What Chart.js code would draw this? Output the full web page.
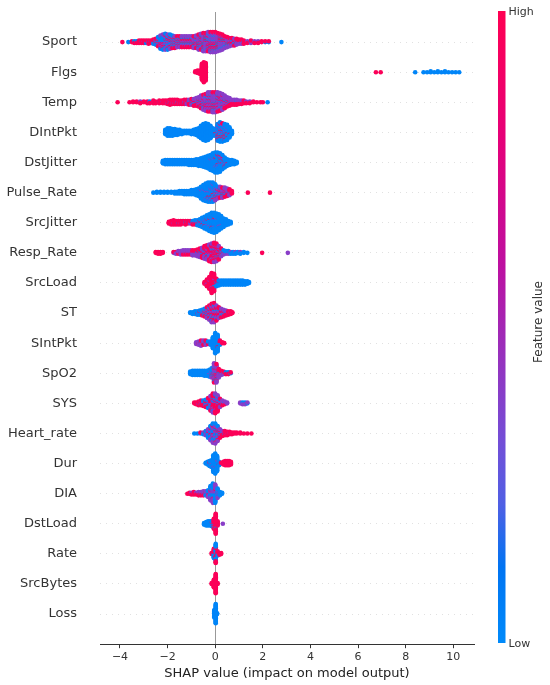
<!DOCTYPE html>
<html>
<head>
<meta charset="utf-8">
<script src="https://cdn.jsdelivr.net/npm/chart.js@4.4.1/dist/chart.umd.min.js"></script>
<style>
  html, body { margin: 0; padding: 0; background: #fff; }
  #wrap { width: 550px; height: 685px; position: relative; }
</style>
</head>
<body>
<div id="wrap"><canvas id="shapChart"></canvas></div>
<script>
// feature names, top row first (ordered by mean |SHAP|)
const features = ['Sport', 'Flgs', 'Temp', 'DIntPkt', 'DstJitter', 'Pulse_Rate', 'SrcJitter',
  'Resp_Rate', 'SrcLoad', 'ST', 'SIntPkt', 'SpO2', 'SYS', 'Heart_rate', 'Dur', 'DIA',
  'DstLoad', 'Rate', 'SrcBytes', 'Loss'];

const xTicks = [-4, -2, 0, 2, 4, 6, 8, 10];

// feature value used for the low / mid / high points
const colorLevels = [0.03, 0.4, 0.97];

// each entry: [shap value, n low, n mid, n high]
const sport = [[-3.9,0,0,1],[-3.65,1,0,0],[-3.5,0,0,2],[-3.4,1,0,2],[-3.3,1,0,2],[-3.2,0,1,3],
  [-3.1,1,0,3],[-3.0,0,1,3],[-2.9,2,0,2],[-2.8,1,1,3],[-2.7,1,0,3],[-2.6,2,1,3],[-2.5,3,2,3],
  [-2.4,5,3,4],[-2.3,8,5,4],[-2.2,9,6,4],[-2.1,9,7,4],[-2.0,8,7,4],[-1.9,7,6,5],[-1.8,6,5,5],
  [-1.7,5,5,5],[-1.6,4,5,5],[-1.5,4,5,5],[-1.4,3,6,5],[-1.3,3,6,5],[-1.2,3,6,5],[-1.1,3,6,5],
  [-1.0,3,6,5],[-0.9,3,7,5],[-0.8,3,8,5],[-0.7,4,9,6],[-0.6,4,10,6],[-0.5,5,11,7],[-0.4,5,12,6],
  [-0.3,5,12,7],[-0.2,5,12,8],[-0.1,5,12,8],[0.0,5,12,8],[0.1,5,11,7],[0.2,4,11,6],[0.3,4,10,5],
  [0.4,3,8,4],[0.5,3,6,4],[0.6,2,5,4],[0.7,2,4,4],[0.8,2,3,4],[0.9,1,3,4],[1.0,1,2,3],
  [1.1,1,2,3],[1.2,1,1,3],[1.35,0,1,2],[1.5,1,1,2],[1.65,0,1,2],[1.8,0,1,2],[1.95,0,0,2],
  [2.1,1,0,1],[2.25,1,0,1],[2.78,1,0,0]];
const flgs = [[-0.84,0,0,2],[-0.74,0,0,4],[-0.64,0,0,5],[-0.56,0,0,20],[-0.48,0,0,25],
  [-0.40,0,0,22],[6.75,0,0,1],[6.95,0,0,1],[8.4,1,0,0],[8.75,1,0,0],[8.9,1,0,0],[9.05,2,0,0],
  [9.2,1,0,0],[9.35,2,0,0],[9.5,1,0,0],[9.65,2,0,0],[9.8,1,0,0],[9.95,1,0,0],[10.1,1,0,0],
  [10.25,1,0,0]];
const temp = [[-4.1,0,0,1],[-3.6,0,0,1],[-3.45,0,0,2],[-3.3,0,0,2],[-3.15,0,1,2],[-3.0,0,0,2],
  [-2.85,0,0,3],[-2.75,1,0,2],[-2.6,0,1,3],[-2.5,0,0,3],[-2.35,1,0,3],[-2.2,0,1,3],[-2.1,0,0,4],
  [-2.0,0,1,4],[-1.9,1,1,5],[-1.8,0,1,5],[-1.7,0,1,5],[-1.6,1,1,4],[-1.5,0,1,4],[-1.4,0,1,4],
  [-1.3,1,1,4],[-1.2,0,2,4],[-1.1,1,2,4],[-1.0,2,2,4],[-0.9,2,3,4],[-0.8,1,5,4],[-0.7,1,7,4],
  [-0.6,2,9,5],[-0.5,2,12,5],[-0.4,2,14,5],[-0.3,3,15,6],[-0.2,3,15,6],[-0.1,3,16,6],
  [0.0,3,16,6],[0.1,3,15,6],[0.2,2,15,5],[0.3,2,14,4],[0.4,1,11,4],[0.5,1,7,4],[0.6,1,5,4],
  [0.7,0,3,4],[0.8,0,3,4],[0.9,1,2,4],[1.0,0,2,3],[1.1,0,2,3],[1.2,0,1,3],[1.3,0,1,2],
  [1.45,0,1,2],[1.6,0,0,2],[1.75,0,0,1],[1.9,0,0,1],[2.0,0,0,1],[2.2,1,0,0]];
const dIntPkt = [[-2.1,6,0,0],[-2.0,10,0,0],[-1.9,10,0,0],[-1.8,9,0,0],[-1.7,8,0,0],[-1.6,7,0,0],
  [-1.5,6,0,0],[-1.4,5,0,0],[-1.3,4,0,0],[-1.2,4,0,0],[-1.1,4,0,0],[-1.0,5,0,0],[-0.9,6,0,0],
  [-0.8,8,0,0],[-0.7,11,0,0],[-0.6,16,0,0],[-0.5,20,0,0],[-0.4,22,0,0],[-0.3,20,0,0],
  [-0.2,16,0,0],[-0.1,10,0,0],[0.0,8,0,1],[0.1,15,2,4],[0.2,16,3,5],[0.3,15,3,5],[0.4,15,2,4],
  [0.5,16,1,2],[0.6,12,0,1],[0.7,5,0,0]];
const dstJitter = [[-2.2,4,0,0],[-2.1,6,0,0],[-2.0,6,0,0],[-1.9,6,0,0],[-1.8,6,0,0],[-1.7,6,0,0],
  [-1.6,6,0,0],[-1.5,6,0,0],[-1.4,6,0,0],[-1.3,6,0,0],[-1.2,6,0,0],[-1.1,7,0,0],[-1.0,7,0,0],
  [-0.9,7,0,0],[-0.8,8,0,0],[-0.7,9,0,0],[-0.6,10,0,0],[-0.5,12,0,0],[-0.4,14,0,0],
  [-0.3,16,0,0],[-0.2,18,1,0],[-0.1,21,1,0],[0.0,23,1,1],[0.1,22,1,2],[0.2,18,2,3],[0.3,13,2,3],
  [0.4,10,1,2],[0.5,8,0,1],[0.6,7,0,0],[0.7,6,0,0],[0.8,5,0,0],[0.9,3,0,0]];
const pulseRate = [[-2.6,1,0,0],[-2.45,2,0,0],[-2.3,2,0,0],[-2.15,2,0,0],[-2.0,2,0,0],
  [-1.85,2,0,0],[-1.7,3,0,0],[-1.6,3,0,0],[-1.5,4,0,0],[-1.4,4,0,0],[-1.3,5,0,0],[-1.2,5,0,0],
  [-1.1,5,0,0],[-1.0,6,0,0],[-0.9,6,0,0],[-0.8,8,0,0],[-0.7,10,0,0],[-0.6,14,1,0],[-0.5,18,1,0],
  [-0.4,20,2,0],[-0.3,21,2,1],[-0.2,20,3,1],[-0.1,18,4,2],[0.0,12,5,3],[0.1,6,6,3],[0.2,4,6,4],
  [0.3,3,6,4],[0.4,2,6,4],[0.5,1,5,4],[0.6,1,3,4],[0.7,0,1,3],[1.37,0,0,1],[2.3,0,0,1]];
const srcJitter = [[-1.95,0,0,3],[-1.85,0,0,5],[-1.75,0,1,5],[-1.65,0,0,5],[-1.55,1,0,4],
  [-1.45,0,1,4],[-1.35,1,0,3],[-1.25,1,1,3],[-1.15,1,0,3],[-1.05,1,1,2],[-0.95,2,1,2],
  [-0.85,3,1,2],[-0.75,5,1,1],[-0.65,7,1,1],[-0.55,10,1,1],[-0.45,13,1,1],[-0.35,16,1,1],
  [-0.25,19,1,1],[-0.15,22,1,1],[-0.05,23,1,1],[0.05,22,1,0],[0.15,19,1,0],[0.25,15,1,0],
  [0.35,11,0,0],[0.45,8,0,0],[0.55,5,0,0],[0.65,3,0,0]];
const respRate = [[-2.5,0,0,2],[-2.4,0,0,3],[-2.3,0,0,3],[-2.2,0,0,2],[-1.75,0,1,1],
  [-1.65,0,2,1],[-1.55,0,3,1],[-1.45,0,4,1],[-1.35,0,4,2],[-1.25,0,4,2],[-1.15,0,4,2],
  [-1.05,0,4,2],[-0.95,0,4,3],[-0.85,0,4,3],[-0.75,1,5,3],[-0.65,1,6,4],[-0.55,1,6,6],
  [-0.45,1,7,8],[-0.35,1,7,10],[-0.25,1,8,12],[-0.15,1,8,14],[-0.05,1,8,15],[0.05,1,7,14],
  [0.15,2,5,10],[0.25,3,3,4],[0.35,3,2,1],[0.45,3,1,0],[0.55,3,1,0],[0.65,2,1,0],[0.75,3,0,0],
  [0.85,2,1,0],[0.95,2,0,0],[1.05,2,1,0],[1.2,2,0,0],[1.35,1,0,0],[1.97,0,0,1],[3.05,0,1,0]];
const srcLoad = [[-0.45,0,0,3],[-0.35,0,1,8],[-0.25,0,1,14],[-0.15,0,1,24],[-0.05,1,1,20],
  [0.05,4,0,6],[0.15,6,0,1],[0.25,6,0,0],[0.35,6,0,0],[0.45,6,0,0],[0.55,6,0,0],[0.65,6,0,0],
  [0.75,6,0,0],[0.85,6,0,0],[0.95,6,0,0],[1.05,6,0,0],[1.15,6,0,0],[1.25,5,0,0],[1.35,4,0,0],
  [1.42,2,0,0]];
const st = [[-1.05,2,0,0],[-0.95,3,0,0],[-0.85,4,0,0],[-0.75,4,0,1],[-0.65,4,1,1],[-0.55,4,2,2],
  [-0.45,4,3,3],[-0.35,4,5,5],[-0.25,4,7,7],[-0.15,4,10,9],[-0.05,4,10,10],[0.05,3,8,8],
  [0.15,2,6,6],[0.25,2,4,5],[0.35,2,3,4],[0.45,1,2,4],[0.55,0,1,4],[0.65,0,1,3],[0.72,0,0,2]];
const sIntPkt = [[-0.8,0,3,0],[-0.7,0,4,1],[-0.6,1,4,2],[-0.5,1,3,2],[-0.4,2,2,2],[-0.3,2,1,1],
  [-0.2,4,0,1],[-0.1,14,0,0],[0.0,25,0,0],[0.1,20,0,1],[0.2,3,0,3],[0.3,0,0,2],[0.38,0,0,1]];
const spO2 = [[-1.05,4,0,0],[-0.95,6,0,0],[-0.85,6,0,0],[-0.75,6,0,0],[-0.65,6,0,0],
  [-0.55,6,0,0],[-0.45,7,0,0],[-0.35,7,0,0],[-0.25,8,1,0],[-0.15,8,3,1],[-0.05,4,14,6],
  [0.05,2,14,7],[0.15,1,6,4],[0.25,1,2,3],[0.35,1,1,2],[0.45,1,0,2],[0.55,1,0,2],[0.65,1,0,1]];
const sys = [[-0.88,0,0,2],[-0.8,0,0,3],[-0.7,0,1,4],[-0.6,1,1,4],[-0.5,2,1,4],[-0.4,3,2,4],
  [-0.3,4,3,5],[-0.2,4,5,8],[-0.1,4,6,12],[0.0,3,6,14],[0.1,3,6,10],[0.2,2,4,4],[0.3,1,3,2],
  [0.4,1,2,1],[0.5,0,2,0],[1.05,0,2,0],[1.15,1,2,0],[1.25,1,2,0],[1.35,1,1,0]];
const heartRate = [[-0.88,1,0,0],[-0.75,1,0,0],[-0.62,1,0,1],[-0.5,2,1,0],[-0.4,3,2,1],
  [-0.3,6,4,1],[-0.2,9,7,2],[-0.1,11,10,3],[0.0,10,11,4],[0.1,7,8,4],[0.2,3,4,4],[0.3,1,2,4],
  [0.4,1,1,4],[0.5,0,1,4],[0.6,0,1,3],[0.7,0,0,3],[0.8,0,0,2],[0.9,0,0,2],[1.05,0,0,2],
  [1.2,0,0,1],[1.35,0,0,1],[1.52,0,0,1]];
const dur = [[-0.4,2,0,0],[-0.32,4,0,0],[-0.24,6,0,1],[-0.16,8,1,0],[-0.08,20,1,0],[0.0,24,1,0],
  [0.08,18,1,0],[0.16,4,0,1],[0.24,1,0,1],[0.34,0,0,4],[0.42,0,0,6],[0.5,0,0,6],[0.58,0,0,6],
  [0.66,0,0,4]];
const dia = [[-1.17,0,0,1],[-1.08,0,0,2],[-1.0,0,1,2],[-0.9,0,1,3],[-0.8,0,1,2],[-0.7,0,2,3],
  [-0.6,1,2,2],[-0.5,1,3,2],[-0.4,2,3,1],[-0.3,4,4,1],[-0.2,9,8,1],[-0.1,12,11,1],[0.0,12,10,1],
  [0.1,8,4,0],[0.2,4,1,0],[0.29,2,0,0]];
const dstLoad = [[-0.47,3,0,0],[-0.38,5,0,0],[-0.3,6,0,0],[-0.22,6,0,0],[-0.14,6,0,1],
  [-0.06,3,0,10],[0.02,1,0,24],[0.1,0,0,6],[0.32,0,1,0]];
const rate = [[-0.15,0,0,2],[-0.06,6,0,6],[0.02,14,0,10],[0.1,2,0,4],[0.18,0,0,3],[0.25,0,0,2]];
const srcBytes = [[-0.15,0,0,2],[-0.06,0,0,10],[0.02,0,0,24],[0.1,0,0,2]];
const loss = [[-0.04,10,0,0],[0.02,24,0,0],[0.08,2,0,0]];

const rows = [sport, flgs, temp, dIntPkt, dstJitter, pulseRate, srcJitter, respRate, srcLoad,
  st, sIntPkt, spO2, sys, heartRate, dur, dia, dstLoad, rate, srcBytes, loss];

// shap's red_blue colormap, approximated with a few stops
const cmapStops = [
  [0.00, [0, 138, 250]],
  [0.12, [0, 116, 242]],
  [0.22, [80, 95, 228]],
  [0.32, [115, 78, 215]],
  [0.45, [150, 50, 190]],
  [0.60, [190, 15, 160]],
  [0.80, [230, 0, 120]],
  [1.00, [255, 0, 82]]
];

function rgb(c) { return 'rgb(' + c.map(Math.round).join(',') + ')'; }

function featureColor(v) {
  for (let i = 1; i < cmapStops.length; i++) {
    const a = cmapStops[i - 1], b = cmapStops[i];
    if (v <= b[0]) {
      const t = (v - a[0]) / (b[0] - a[0]);
      return rgb(a[1].map((c, k) => c + (b[1][k] - c) * t));
    }
  }
  return rgb(cmapStops[cmapStops.length - 1][1]);
}

// stack points of one bin above/below the row like shap's beeswarm does
function swarm(bins, rowPos) {
  let maxN = 0;
  bins.forEach(b => { maxN = Math.max(maxN, b[1] + b[2] + b[3]); });
  const maxUp = Math.ceil((maxN - 1) / 2);
  const step = 0.9 * 0.4 / (maxUp + 1);
  const pts = [], cols = [];
  bins.forEach(b => {
    const stack = [];
    for (let c = 0; c < 3; c++) {
      const n = b[c + 1];
      for (let k = 0; k < n; k++) stack.push({ f: (k + 0.5) / n, c: c });
    }
    stack.sort((p, q) => p.f - q.f || p.c - q.c);
    stack.forEach((p, layer) => {
      const off = Math.ceil(layer / 2) * ((layer % 2) * 2 - 1);
      pts.push({ x: b[0], y: rowPos + off * step });
      cols.push(featureColor(colorLevels[p.c]));
    });
  });
  return { pts: pts, cols: cols };
}

const datasets = rows.map((bins, i) => {
  const s = swarm(bins, features.length - 1 - i);
  return {
    label: features[i],
    data: s.pts,
    pointBackgroundColor: s.cols,
    pointBorderWidth: 0,
    pointRadius: 2.3,
    pointHoverRadius: 2.3
  };
});

const colorbarPlugin = {
  id: 'colorbar',
  afterDraw(chart) {
    const c = chart.ctx;
    const top = 11, bottom = 643, x = 498, w = 7.5;
    const g = c.createLinearGradient(0, bottom, 0, top);
    cmapStops.forEach(s => g.addColorStop(s[0], rgb(s[1])));
    c.save();
    c.fillStyle = g;
    c.fillRect(x, top, w, bottom - top);
    c.fillStyle = '#333';
    c.font = '11px "DejaVu Sans"';
    c.textAlign = 'left';
    c.textBaseline = 'middle';
    c.fillText('High', x + w + 3, top + 1);
    c.fillText('Low', x + w + 3, bottom + 1);
    c.translate(539, 322);
    c.rotate(-Math.PI / 2);
    c.textAlign = 'center';
    c.font = '12px "DejaVu Sans"';
    c.fillText('Feature value', 0, 0);
    c.restore();
  }
};

const ctx = document.getElementById('shapChart').getContext('2d');
new Chart(ctx, {
  type: 'scatter',
  data: { datasets: datasets },
  options: {
    responsive: true,
    maintainAspectRatio: false,
    animation: false,
    layout: { padding: { left: 0, right: 76, top: 12, bottom: 4 } },
    plugins: { legend: { display: false }, tooltip: { enabled: false } },
    scales: {
      x: {
        type: 'linear',
        min: -4.84,
        max: 10.87,
        afterBuildTicks: s => { s.ticks = xTicks.map(v => ({ value: v })); },
        afterFit: s => { s.paddingLeft = 0; s.paddingRight = 0; },
        ticks: {
          callback: v => (v < 0 ? '\u2212' + Math.abs(v) : String(v)),
          color: '#333',
          font: { family: 'DejaVu Sans', size: 11 },
          padding: 2,
          maxRotation: 0,
          autoSkip: false
        },
        grid: {
          color: c => (c.tick && c.tick.value === 0 ? '#999999' : 'rgba(0,0,0,0)'),
          lineWidth: 1,
          tickColor: '#333',
          tickLength: 4
        },
        border: { display: true, color: '#333', width: 1 },
        title: {
          display: true,
          text: 'SHAP value (impact on model output)',
          color: '#222',
          font: { family: 'DejaVu Sans', size: 13 },
          padding: 0
        }
      },
      y: {
        type: 'linear',
        min: -1,
        max: 20,
        afterBuildTicks: s => { s.ticks = features.map((f, i) => ({ value: i })); },
        afterFit: s => { s.width = 100; s.paddingTop = 0; s.paddingBottom = 0; },
        ticks: {
          callback: v => features[features.length - 1 - v] || '',
          color: '#333',
          font: { family: 'DejaVu Sans', size: 13 },
          padding: 23,
          autoSkip: false
        },
        grid: { color: '#cccccc', lineWidth: 0.6, drawTicks: false },
        border: { display: false, dash: [1, 5] }
      }
    }
  },
  plugins: [colorbarPlugin]
});
</script>
</body>
</html>
